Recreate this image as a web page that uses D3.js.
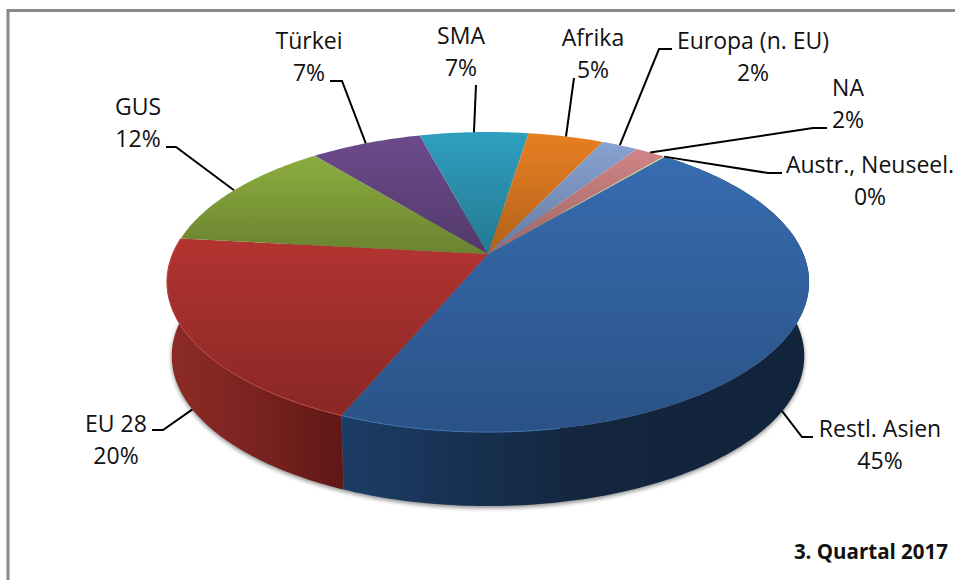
<!DOCTYPE html>
<html>
<head>
<meta charset="utf-8">
<script src="https://cdn.jsdelivr.net/npm/d3@7"></script>
<style>
    body { margin: 0; background: #fff; }
    text { font-family: "Open Sans", Lato, sans-serif; fill: #111; }
</style>
</head>
<body>
<svg id="chart"></svg>
<script>
// values, clockwise from the first slice
const regions = ["Restl. Asien", "EU 28", "GUS", "Türkei", "SMA", "Afrika", "Europa (n. EU)", "NA", "Austr., Neuseel."];
const shares = [45.2, 20.45, 12.45, 6.7, 6.55, 4.55, 2.2, 1.8, 0.1];
const faceColors = ["#376cb0", "#b33431", "#8cad3f", "#6c4b8c", "#2f9fbf", "#e87f22", "#87a2d2", "#d08585", "#bcd07a"];
const footnote = "3. Quartal 2017";

// label placement: text centre, first baseline, elbow of the leader
const labelLayout = [
    { x: 880, y: 437, line: [[813, 437], [802, 437]], wall: true },
    { x: 116, y: 432, line: [[152, 430], [163, 430]], wall: true },
    { x: 138, y: 115, line: [[166, 147], [176, 147]] },
    { x: 309, y: 49, line: [[330, 81], [342, 81]] },
    { x: 461, y: 44, line: [[476, 85]] },
    { x: 593, y: 46, line: [[574, 78]] },
    { x: 753, y: 49, line: [[672, 49], [659, 49]] },
    { x: 848, y: 96, line: [[827, 128], [813, 128]] },
    { x: 870, y: 173, line: [[782, 173], [768, 173]] }
];

const width = 955, height = 580;
const startDeg = 39.9;
const tilt = 0.187;      // perspective of the pie disc
const depth = 74;        // height of the wall
const bottomShrink = 0.985;

const svg = d3.select("#chart").attr("width", width).attr("height", height);
const defs = svg.append("defs");

const x = d3.scaleLinear().domain([-1, 1]).range([488 - 315.4, 488 + 315.4]);
const y = d3.scaleLinear().domain([-1, 1]).range([254 - 144.8, 254 + 144.8]);

// angle clockwise from the back of the disc -> screen position on the rim
function rim(angle, r = 1) {
    const u = r * Math.sin(angle), v = -r * Math.cos(angle);
    const w = 1 - tilt * v;
    return [x(u / w), y(v / w)];
}
function bottomRim(angle) {
    const p = rim(angle);
    return [x(0) + (p[0] - x(0)) * bottomShrink, p[1] + depth];
}
function angleSteps(a0, a1) {
    const n = Math.max(2, Math.ceil((a1 - a0) * 60));
    return d3.range(n + 1).map(i => a0 + (a1 - a0) * i / n);
}

const pie = d3.pie().sort(null).startAngle(startDeg * Math.PI / 180).endAngle(startDeg * Math.PI / 180 + 2 * Math.PI);
const slices = pie(shares);
const line = d3.line();
const percent = v => Math.round(v / d3.sum(shares) * 100) + "%";

// frame
svg.append("path")
    .attr("d", line([[8, height], [8, 10.5], [width, 10.5]]))
    .attr("fill", "none").attr("stroke", "#898989").attr("stroke-width", 3);

// soft shadow under the pie
defs.append("filter").attr("id", "soft")
    .attr("x", "-5%").attr("y", "-5%").attr("width", "110%").attr("height", "110%")
    .append("feGaussianBlur").attr("stdDeviation", 2.2);
svg.append("path")
    .attr("d", line(angleSteps(0, 2 * Math.PI).map(a => bottomRim(a))) + "Z")
    .attr("fill", "#8a8a8a")
    .attr("filter", "url(#soft)")
    .attr("transform", "translate(0,2)");

// walls, only the two big slices face the viewer
const wallColors = [["#1c3d66", "#14263f", "#12233c"], ["#8d2b26", "#7a2320", "#601715"]];
const wallGrad = defs.selectAll(".wall").data(wallColors).enter().append("linearGradient")
    .attr("class", "wall")
    .attr("id", (d, i) => "wall" + i);
wallGrad.selectAll("stop").data(d => d).enter().append("stop")
    .attr("offset", (d, i) => i / 2)
    .attr("stop-color", d => d);

svg.append("g").selectAll("path")
    .data(slices.slice(0, 2))
    .enter().append("path")
    .attr("d", d => {
        const steps = angleSteps(d.startAngle, d.endAngle);
        return line(steps.map(a => rim(a)).concat(steps.slice().reverse().map(a => bottomRim(a)))) + "Z";
    })
    .attr("fill", (d, i) => `url(#wall${i})`);

// top face, a gradient per slice
const faceGrad = defs.selectAll(".face").data(faceColors).enter().append("linearGradient")
    .attr("class", "face")
    .attr("id", (d, i) => "face" + i)
    .attr("x1", 0).attr("y1", 0).attr("x2", 0).attr("y2", 1);
faceGrad.append("stop").attr("offset", 0).attr("stop-color", d => d);
faceGrad.append("stop").attr("offset", 1).attr("stop-color", d => {
    const c = d3.rgb(d);
    return d3.rgb(c.r * 0.76, c.g * 0.76, c.b * 0.76).formatHex();
});

svg.append("g").selectAll("path")
    .data(slices)
    .enter().append("path")
    .attr("d", d => line([[x(0), y(0)]].concat(angleSteps(d.startAngle, d.endAngle).map(a => rim(a)))) + "Z")
    .attr("fill", (d, i) => `url(#face${i})`);

// lighter bevel along the front of the rim
const bevelColors = ["#3f76b6", "#c04a45"];
const bevelFrom = [2.95, 3.55];
svg.append("g").selectAll("path")
    .data(slices.slice(0, 2))
    .enter().append("path")
    .attr("d", (d, i) => line(angleSteps(d.startAngle, d.endAngle).filter(a => a > bevelFrom[i] || i === 1).map(a => rim(a))))
    .attr("fill", "none")
    .attr("stroke", (d, i) => bevelColors[i])
    .attr("stroke-width", 1);

// leaders
svg.append("g").selectAll("path")
    .data(slices)
    .enter().append("path")
    .attr("d", (d, i) => {
        const mid = (d.startAngle + d.endAngle) / 2;
        const end = labelLayout[i].wall ? bottomRim(mid) : rim(mid);
        return line(labelLayout[i].line.concat([end]));
    })
    .attr("fill", "none")
    .attr("stroke", "#000")
    .attr("stroke-width", 2);

// labels
const labels = svg.append("g").selectAll("text")
    .data(regions)
    .enter().append("text")
    .attr("text-anchor", "middle")
    .attr("font-size", 23);
labels.append("tspan")
    .attr("x", (d, i) => labelLayout[i].x)
    .attr("y", (d, i) => labelLayout[i].y)
    .text(d => d);
labels.append("tspan")
    .attr("x", (d, i) => labelLayout[i].x)
    .attr("y", (d, i) => labelLayout[i].y + 32)
    .text((d, i) => percent(shares[i]));

svg.append("text")
    .attr("x", 948).attr("y", 559)
    .attr("text-anchor", "end")
    .attr("font-size", 20.5)
    .attr("font-weight", 700)
    .text(footnote);
</script>
</body>
</html>
